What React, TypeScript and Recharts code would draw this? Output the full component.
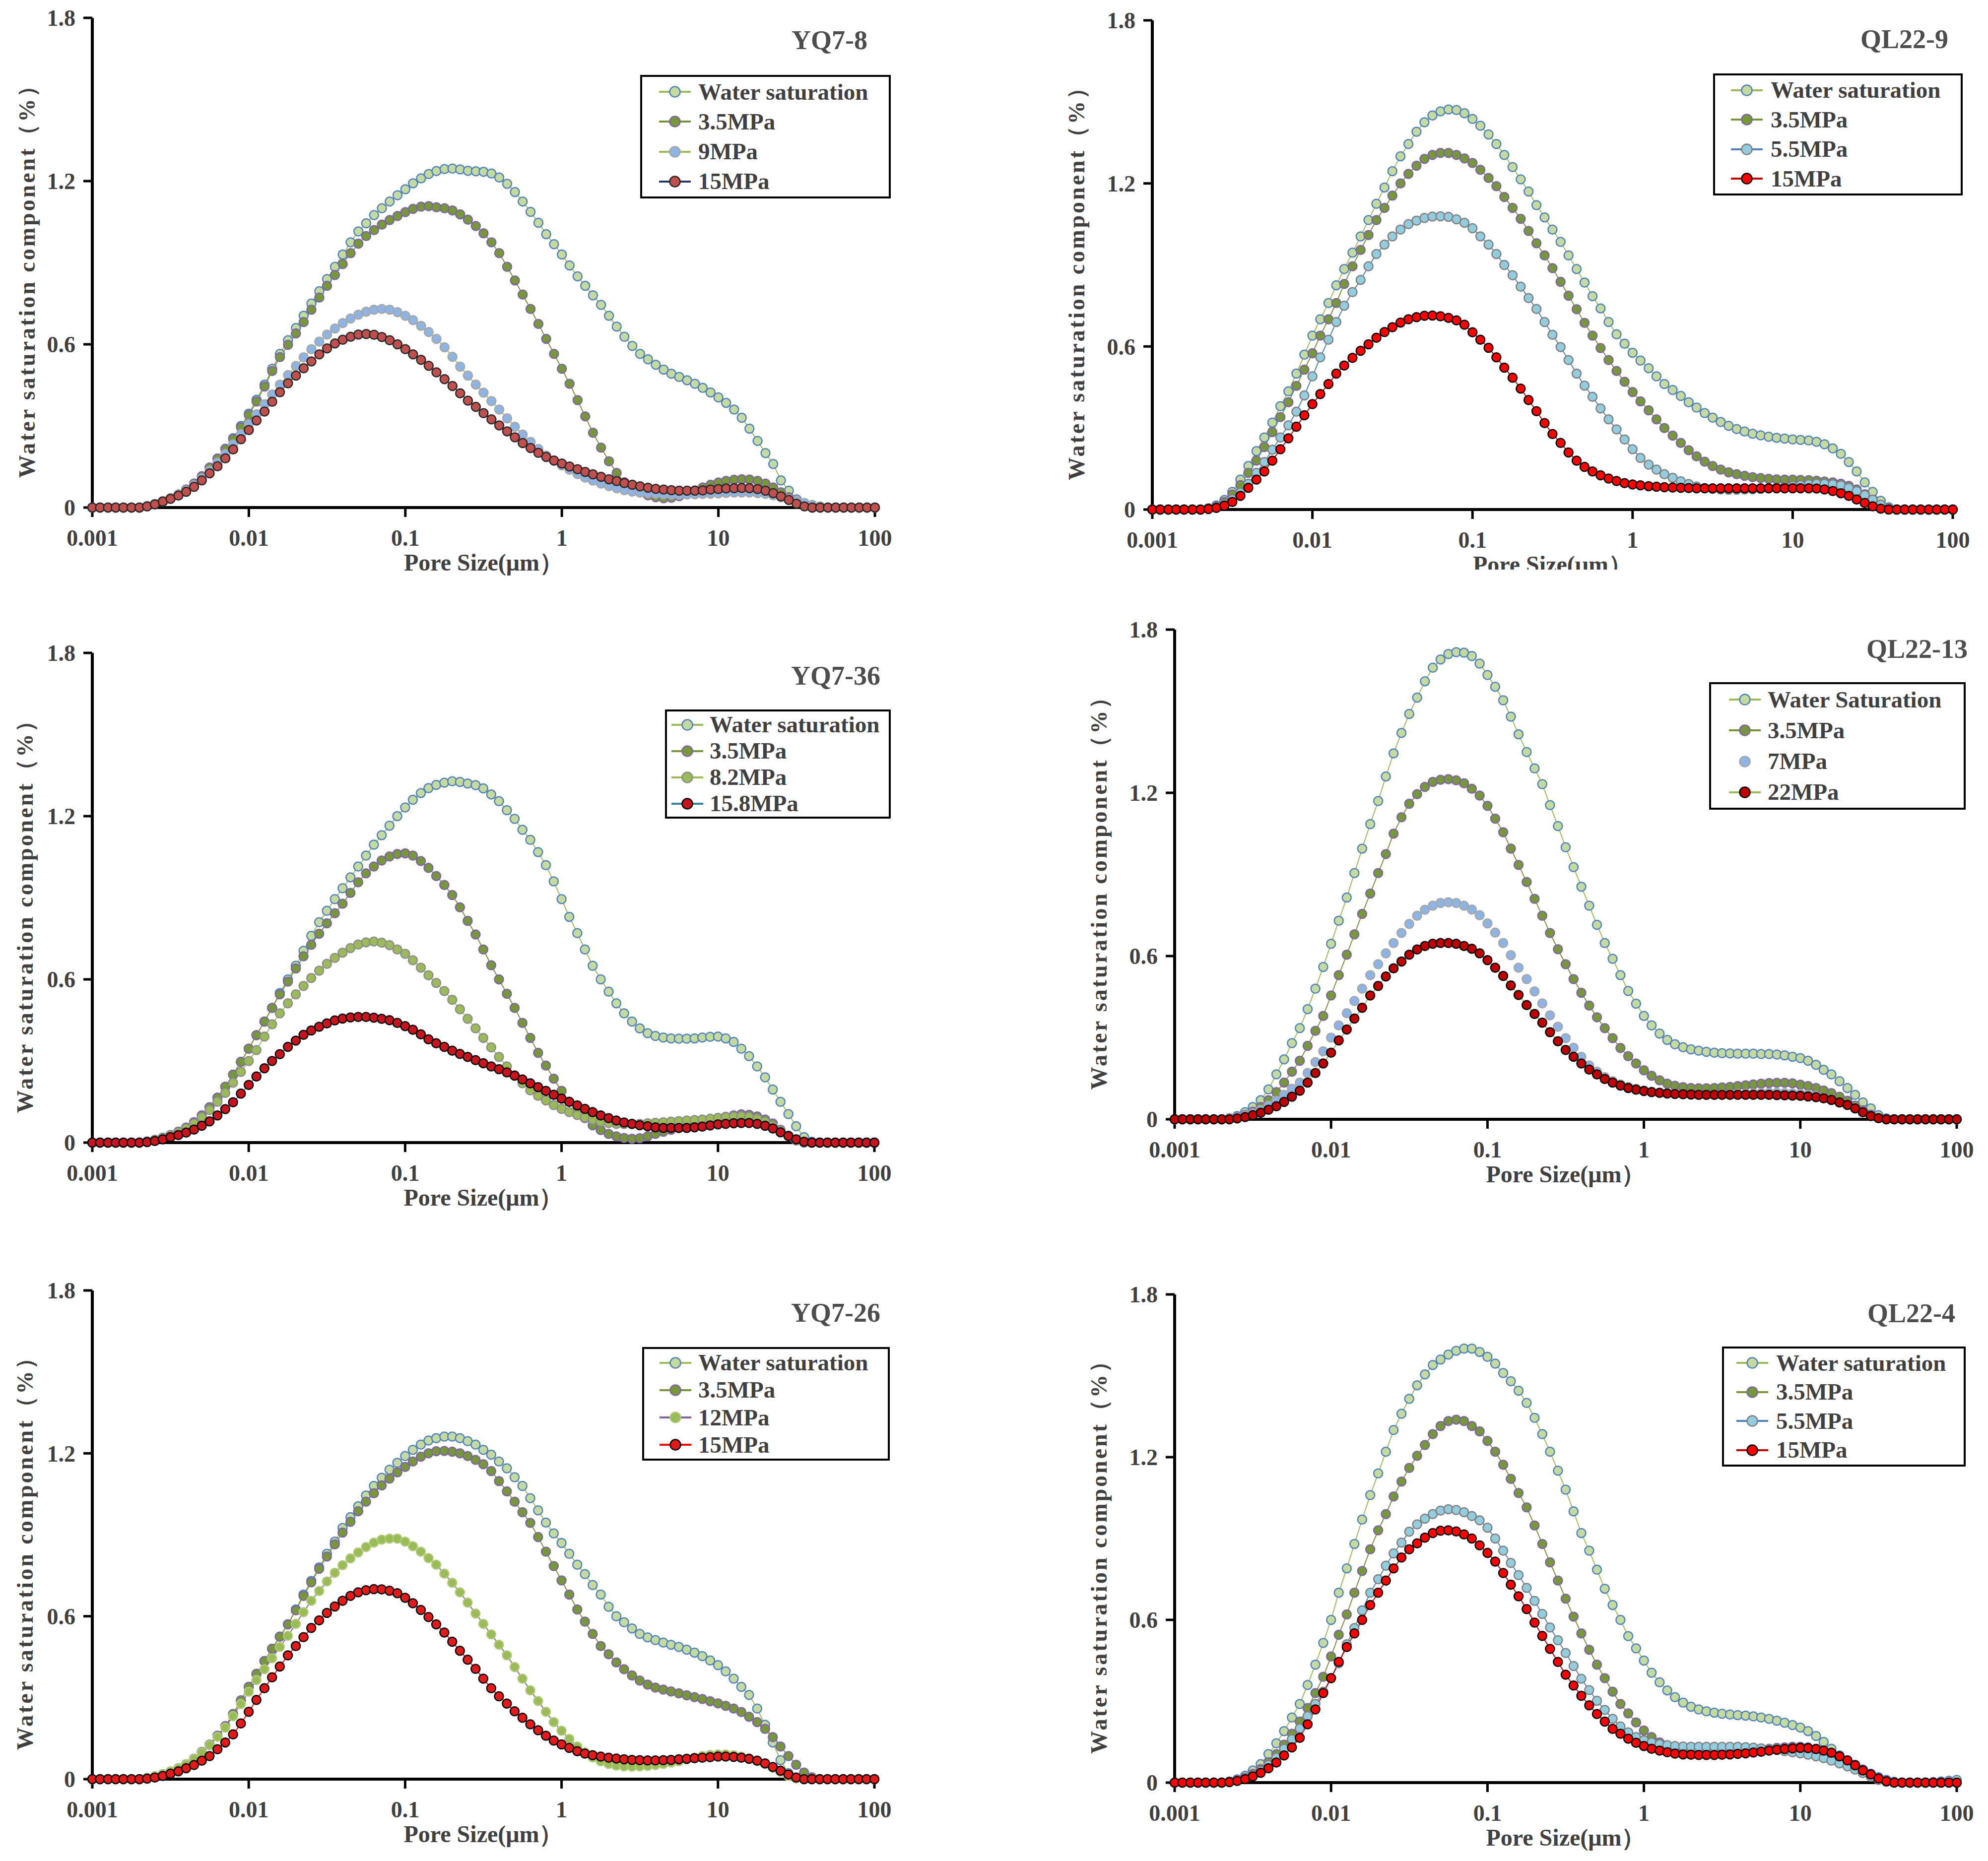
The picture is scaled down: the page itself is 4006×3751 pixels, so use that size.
import React from "react";
import { LineChart, Line, XAxis, YAxis, Legend } from "recharts";

// pore size grid (µm), 20 points per decade
const PORE_SIZE = [
  0.001, 0.00112, 0.00126, 0.00141, 0.00158, 0.00178, 0.002, 0.00224, 0.00251, 0.00282,
  0.00316, 0.00355, 0.00398, 0.00447, 0.00501, 0.00562, 0.00631, 0.00708, 0.00794, 0.00891,
  0.01, 0.0112, 0.0126, 0.0141, 0.0158, 0.0178, 0.02, 0.0224, 0.0251, 0.0282,
  0.0316, 0.0355, 0.0398, 0.0447, 0.0501, 0.0562, 0.0631, 0.0708, 0.0794, 0.0891,
  0.1, 0.112, 0.126, 0.141, 0.158, 0.178, 0.2, 0.224, 0.251, 0.282,
  0.316, 0.355, 0.398, 0.447, 0.501, 0.562, 0.631, 0.708, 0.794, 0.891,
  1, 1.12, 1.26, 1.41, 1.58, 1.78, 2, 2.24, 2.51, 2.82,
  3.16, 3.55, 3.98, 4.47, 5.01, 5.62, 6.31, 7.08, 7.94, 8.91,
  10, 11.2, 12.6, 14.1, 15.8, 17.8, 20, 22.4, 25.1, 28.2,
  31.6, 35.5, 39.8, 44.7, 50.1, 56.2, 63.1, 70.8, 79.4, 89.1,
  100,
];

const X_TICKS = [0.001, 0.01, 0.1, 1, 10, 100];
const X_TICK_LABELS = ["0.001", "0.01", "0.1", "1", "10", "100"];
const Y_TICKS = [0, 0.6, 1.2, 1.8];
const Y_TICK_LABELS = ["0", "0.6", "1.2", "1.8"];

// ---- YQ7-8 ----
const YQ7_8_WATER = [
  0, 0, 0, 0, 0, 0, 0, 0.005, 0.012, 0.022,
  0.034, 0.048, 0.066, 0.088, 0.115, 0.147, 0.18, 0.216, 0.255, 0.3,
  0.345, 0.396, 0.452, 0.51, 0.565, 0.615, 0.66, 0.705, 0.75, 0.795,
  0.84, 0.885, 0.93, 0.975, 1.015, 1.045, 1.075, 1.1, 1.125, 1.148,
  1.17, 1.192, 1.21, 1.226, 1.237, 1.244, 1.246, 1.243, 1.238, 1.236,
  1.234, 1.228, 1.213, 1.19, 1.16, 1.125, 1.087, 1.047, 1.005, 0.968,
  0.93, 0.89, 0.85, 0.815, 0.78, 0.745, 0.705, 0.665, 0.628, 0.594,
  0.565, 0.545, 0.525, 0.507, 0.492, 0.48, 0.468, 0.455, 0.44, 0.423,
  0.405, 0.385, 0.36, 0.33, 0.29, 0.245, 0.2, 0.16, 0.1, 0.062,
  0.03, 0.008, 0, 0, 0, 0, 0, 0, 0, 0,
  0,
];
const YQ7_8_P35 = [
  0, 0, 0, 0, 0, 0, 0, 0.005, 0.012, 0.022,
  0.034, 0.048, 0.066, 0.088, 0.115, 0.147, 0.18, 0.215, 0.252, 0.295,
  0.34, 0.39, 0.445, 0.502, 0.553, 0.598, 0.64, 0.682, 0.727, 0.772,
  0.815, 0.855, 0.895, 0.935, 0.97, 0.998, 1.02, 1.04, 1.057, 1.072,
  1.086, 1.098, 1.106, 1.108, 1.104, 1.1, 1.092, 1.078, 1.058, 1.035,
  1.008, 0.975, 0.935, 0.885, 0.835, 0.783, 0.73, 0.675, 0.62, 0.565,
  0.51, 0.455, 0.395, 0.335, 0.275, 0.22, 0.17, 0.127, 0.093, 0.07,
  0.055, 0.045, 0.038, 0.034, 0.036, 0.042, 0.052, 0.063, 0.074, 0.084,
  0.092, 0.098, 0.102, 0.104, 0.103, 0.098, 0.088, 0.074, 0.056, 0.038,
  0.02, 0.008, 0, 0, 0, 0, 0, 0, 0, 0,
  0,
];
const YQ7_8_P9 = [
  0, 0, 0, 0, 0, 0, 0, 0.005, 0.013, 0.024,
  0.035, 0.048, 0.063, 0.083, 0.108, 0.136, 0.165, 0.197, 0.232, 0.27,
  0.307, 0.343, 0.38, 0.416, 0.452, 0.487, 0.52, 0.552, 0.582, 0.61,
  0.636, 0.658, 0.678, 0.695, 0.709, 0.72, 0.727, 0.73, 0.727, 0.718,
  0.705, 0.689, 0.668, 0.645, 0.62, 0.589, 0.554, 0.518, 0.485, 0.452,
  0.422, 0.391, 0.36, 0.328, 0.297, 0.268, 0.241, 0.215, 0.191, 0.172,
  0.155, 0.139, 0.123, 0.11, 0.099, 0.088, 0.079, 0.071, 0.064, 0.059,
  0.055, 0.052, 0.05, 0.048, 0.047, 0.047, 0.048, 0.049, 0.05, 0.051,
  0.052, 0.054, 0.055, 0.055, 0.055, 0.053, 0.05, 0.045, 0.038, 0.031,
  0.024, 0.017, 0.01, 0.004, 0, 0, 0, 0, 0, 0,
  0,
];
const YQ7_8_P15 = [
  0, 0, 0, 0, 0, 0, 0, 0.004, 0.012, 0.022,
  0.032, 0.044, 0.058, 0.076, 0.1, 0.126, 0.152, 0.181, 0.214, 0.251,
  0.285, 0.32, 0.353, 0.389, 0.424, 0.457, 0.485, 0.512, 0.537, 0.563,
  0.585, 0.603, 0.617, 0.628, 0.636, 0.638, 0.635, 0.627, 0.615, 0.6,
  0.582, 0.563, 0.543, 0.521, 0.497, 0.472, 0.447, 0.42, 0.393, 0.37,
  0.347, 0.324, 0.302, 0.28, 0.258, 0.237, 0.219, 0.201, 0.186, 0.173,
  0.162, 0.151, 0.141, 0.131, 0.122, 0.113, 0.104, 0.097, 0.09, 0.084,
  0.078, 0.073, 0.069, 0.066, 0.064, 0.062, 0.062, 0.062, 0.063, 0.066,
  0.068, 0.07, 0.071, 0.072, 0.071, 0.068, 0.062, 0.053, 0.041, 0.028,
  0.014, 0.004, 0, 0, 0, 0, 0, 0, 0, 0,
  0,
];

// ---- QL22-9 ----
const QL22_9_WATER = [
  0, 0, 0, 0, 0, 0, 0, 0.005, 0.015, 0.035,
  0.065, 0.11, 0.16, 0.215, 0.265, 0.32, 0.38, 0.435, 0.5, 0.57,
  0.64, 0.7, 0.76, 0.825, 0.885, 0.945, 1.005, 1.065, 1.125, 1.185,
  1.245, 1.3, 1.345, 1.39, 1.425, 1.45, 1.465, 1.472, 1.47, 1.458,
  1.437, 1.412, 1.38, 1.345, 1.305, 1.26, 1.215, 1.17, 1.12, 1.075,
  1.03, 0.985, 0.935, 0.885, 0.835, 0.785, 0.74, 0.69, 0.645, 0.61,
  0.577, 0.548, 0.52, 0.49, 0.462, 0.44, 0.418, 0.395, 0.375, 0.355,
  0.338, 0.322, 0.308, 0.296, 0.287, 0.279, 0.273, 0.268, 0.264, 0.261,
  0.258, 0.256, 0.254, 0.249, 0.24, 0.225, 0.205, 0.175, 0.14, 0.1,
  0.065, 0.032, 0.008, 0, 0, 0, 0, 0, 0, 0,
  0,
];
const QL22_9_P35 = [
  0, 0, 0, 0, 0, 0, 0, 0.004, 0.012, 0.028,
  0.055, 0.09, 0.135, 0.18, 0.23, 0.285, 0.34, 0.395, 0.455, 0.515,
  0.575, 0.64, 0.7, 0.76, 0.83, 0.895, 0.955, 1.01, 1.065, 1.11,
  1.155, 1.2, 1.235, 1.265, 1.29, 1.305, 1.312, 1.312, 1.305, 1.292,
  1.275, 1.25, 1.22, 1.19, 1.15, 1.11, 1.07, 1.025, 0.98, 0.935,
  0.888, 0.838, 0.787, 0.737, 0.687, 0.64, 0.594, 0.55, 0.51, 0.47,
  0.432, 0.398, 0.365, 0.332, 0.3, 0.272, 0.245, 0.218, 0.196, 0.176,
  0.16, 0.147, 0.137, 0.13, 0.124, 0.119, 0.116, 0.113, 0.111, 0.11,
  0.11, 0.109, 0.108, 0.106, 0.103, 0.1, 0.095, 0.087, 0.074, 0.056,
  0.036, 0.016, 0.004, 0, 0, 0, 0, 0, 0, 0,
  0,
];
const QL22_9_P55 = [
  0, 0, 0, 0, 0, 0, 0, 0.003, 0.009, 0.02,
  0.038, 0.062, 0.095, 0.135, 0.175, 0.22, 0.265, 0.31, 0.36, 0.42,
  0.49, 0.56, 0.625, 0.69, 0.75, 0.8, 0.845, 0.895, 0.94, 0.975,
  1.005, 1.03, 1.05, 1.063, 1.073, 1.078, 1.079, 1.077, 1.068, 1.055,
  1.035, 1.005, 0.975, 0.94, 0.9, 0.862, 0.82, 0.778, 0.738, 0.69,
  0.643, 0.598, 0.55, 0.5, 0.456, 0.415, 0.372, 0.332, 0.295, 0.258,
  0.222, 0.19, 0.165, 0.147, 0.13, 0.117, 0.104, 0.094, 0.085, 0.079,
  0.076, 0.074, 0.073, 0.073, 0.074, 0.075, 0.076, 0.078, 0.08, 0.083,
  0.087, 0.09, 0.093, 0.095, 0.095, 0.093, 0.089, 0.08, 0.068, 0.053,
  0.036, 0.018, 0.005, 0, 0, 0, 0, 0, 0, 0,
  0,
];
const QL22_9_P15 = [
  0, 0, 0, 0, 0, 0, 0, 0.002, 0.006, 0.014,
  0.028, 0.05, 0.08, 0.11, 0.14, 0.18, 0.222, 0.262, 0.305, 0.347,
  0.388, 0.425, 0.462, 0.5, 0.53, 0.558, 0.584, 0.608, 0.632, 0.653,
  0.671, 0.688, 0.7, 0.708, 0.713, 0.714, 0.711, 0.705, 0.696, 0.68,
  0.652, 0.625, 0.595, 0.56, 0.522, 0.485, 0.445, 0.403, 0.362, 0.318,
  0.278, 0.245, 0.21, 0.18, 0.157, 0.14, 0.126, 0.114, 0.105, 0.097,
  0.092, 0.089, 0.086, 0.084, 0.082, 0.081, 0.08, 0.079, 0.078, 0.078,
  0.078, 0.078, 0.078, 0.078, 0.078, 0.078, 0.078, 0.078, 0.078, 0.078,
  0.078, 0.078, 0.078, 0.077, 0.074, 0.068, 0.06, 0.05, 0.037, 0.024,
  0.012, 0.003, 0, 0, 0, 0, 0, 0, 0, 0,
  0,
];

// ---- YQ7-36 ----
const YQ7_36_WATER = [
  0, 0, 0, 0, 0, 0, 0, 0.004, 0.01, 0.018,
  0.028, 0.04, 0.055, 0.075, 0.1, 0.13, 0.165, 0.205, 0.25, 0.297,
  0.345, 0.395, 0.445, 0.495, 0.55, 0.6, 0.65, 0.705, 0.76, 0.81,
  0.852, 0.895, 0.935, 0.975, 1.015, 1.055, 1.095, 1.13, 1.165, 1.2,
  1.232, 1.26, 1.285, 1.303, 1.315, 1.323, 1.328, 1.326, 1.32, 1.314,
  1.302, 1.28, 1.255, 1.222, 1.19, 1.15, 1.113, 1.068, 1.02, 0.96,
  0.895, 0.83, 0.77, 0.71, 0.65, 0.6, 0.555, 0.512, 0.475, 0.445,
  0.42, 0.402, 0.392, 0.386, 0.383, 0.382, 0.382, 0.383, 0.386, 0.389,
  0.39, 0.383, 0.37, 0.345, 0.318, 0.28, 0.24, 0.195, 0.15, 0.105,
  0.06, 0.02, 0.003, 0, 0, 0, 0, 0, 0, 0,
  0,
];
const YQ7_36_P35 = [
  0, 0, 0, 0, 0, 0, 0, 0.004, 0.01, 0.018,
  0.028, 0.04, 0.055, 0.075, 0.1, 0.13, 0.165, 0.205, 0.25, 0.297,
  0.345, 0.395, 0.445, 0.495, 0.545, 0.592, 0.64, 0.685, 0.727, 0.768,
  0.806, 0.843, 0.878, 0.918, 0.957, 0.99, 1.015, 1.037, 1.052, 1.061,
  1.063, 1.055, 1.035, 1.01, 0.98, 0.947, 0.91, 0.865, 0.815, 0.765,
  0.71, 0.652, 0.6, 0.547, 0.495, 0.44, 0.385, 0.33, 0.283, 0.235,
  0.19, 0.15, 0.118, 0.09, 0.064, 0.046, 0.032, 0.023, 0.017, 0.014,
  0.016, 0.023, 0.032, 0.04, 0.047, 0.054, 0.061, 0.068, 0.075, 0.081,
  0.088, 0.095, 0.1, 0.104, 0.102, 0.096, 0.085, 0.07, 0.047, 0.025,
  0.008, 0, 0, 0, 0, 0, 0, 0, 0, 0,
  0,
];
const YQ7_36_P82 = [
  0, 0, 0, 0, 0, 0, 0, 0.004, 0.01, 0.018,
  0.027, 0.038, 0.052, 0.07, 0.093, 0.12, 0.15, 0.183, 0.22, 0.26,
  0.3, 0.34, 0.39, 0.435, 0.475, 0.512, 0.545, 0.576, 0.605, 0.632,
  0.657, 0.679, 0.698, 0.715, 0.728, 0.736, 0.739, 0.735, 0.726, 0.71,
  0.694, 0.67, 0.643, 0.615, 0.587, 0.557, 0.525, 0.49, 0.455, 0.42,
  0.385, 0.35, 0.315, 0.28, 0.247, 0.218, 0.192, 0.172, 0.155, 0.138,
  0.124, 0.112, 0.101, 0.092, 0.084, 0.077, 0.072, 0.069, 0.068, 0.068,
  0.069, 0.071, 0.073, 0.075, 0.077, 0.079, 0.081, 0.083, 0.085, 0.088,
  0.091, 0.094, 0.096, 0.097, 0.095, 0.088, 0.077, 0.062, 0.044, 0.025,
  0.008, 0, 0, 0, 0, 0, 0, 0, 0, 0,
  0,
];
const YQ7_36_P158 = [
  0, 0, 0, 0, 0, 0, 0, 0.002, 0.006, 0.012,
  0.02, 0.028, 0.037, 0.048, 0.062, 0.078, 0.1, 0.123, 0.148, 0.18,
  0.212, 0.243, 0.273, 0.3, 0.325, 0.352, 0.375, 0.396, 0.412, 0.426,
  0.438, 0.449, 0.456, 0.46, 0.462, 0.462, 0.459, 0.455, 0.45, 0.44,
  0.428, 0.415, 0.398, 0.38, 0.365, 0.352, 0.338, 0.326, 0.315, 0.303,
  0.292, 0.28, 0.27, 0.258, 0.246, 0.232, 0.218, 0.204, 0.19, 0.176,
  0.162, 0.15, 0.137, 0.124, 0.112, 0.1, 0.09, 0.081, 0.074, 0.069,
  0.064, 0.06, 0.056, 0.054, 0.054, 0.054, 0.054, 0.056, 0.059, 0.063,
  0.067, 0.069, 0.071, 0.072, 0.072, 0.069, 0.062, 0.052, 0.038, 0.024,
  0.012, 0.003, 0, 0, 0, 0, 0, 0, 0, 0,
  0,
];

// ---- QL22-13 ----
const QL22_13_WATER = [
  0, 0, 0, 0, 0, 0, 0, 0.004, 0.012, 0.026,
  0.045, 0.07, 0.11, 0.165, 0.22, 0.28, 0.335, 0.405, 0.48, 0.56,
  0.645, 0.73, 0.815, 0.905, 0.995, 1.085, 1.17, 1.26, 1.345, 1.42,
  1.49, 1.55, 1.61, 1.66, 1.69, 1.71, 1.717, 1.715, 1.703, 1.675,
  1.633, 1.59, 1.54, 1.48, 1.415, 1.35, 1.29, 1.232, 1.155, 1.078,
  1.0, 0.927, 0.855, 0.785, 0.715, 0.648, 0.59, 0.53, 0.472, 0.425,
  0.38, 0.345, 0.315, 0.292, 0.276, 0.265, 0.257, 0.252, 0.248, 0.245,
  0.243, 0.242, 0.241, 0.241, 0.241, 0.24, 0.24, 0.238, 0.235, 0.23,
  0.225, 0.215, 0.2, 0.182, 0.165, 0.14, 0.115, 0.09, 0.062, 0.04,
  0.015, 0.003, 0, 0, 0, 0, 0, 0, 0, 0,
  0,
];
const QL22_13_P35 = [
  0, 0, 0, 0, 0, 0, 0, 0.003, 0.008, 0.016,
  0.028, 0.045, 0.07, 0.1, 0.135, 0.175, 0.215, 0.27, 0.325, 0.38,
  0.455, 0.53, 0.605, 0.68, 0.755, 0.83, 0.905, 0.975, 1.05, 1.11,
  1.16, 1.195, 1.222, 1.24, 1.248, 1.25, 1.246, 1.235, 1.215, 1.19,
  1.152, 1.105, 1.055, 0.995, 0.935, 0.872, 0.81, 0.748, 0.685, 0.625,
  0.57, 0.515, 0.465, 0.418, 0.375, 0.335, 0.298, 0.262, 0.232, 0.205,
  0.18, 0.16, 0.143, 0.131, 0.123, 0.118, 0.115, 0.114, 0.114, 0.115,
  0.117, 0.119, 0.122, 0.125, 0.128, 0.131, 0.133, 0.134, 0.134, 0.132,
  0.127, 0.122, 0.115, 0.106, 0.096, 0.083, 0.068, 0.05, 0.033, 0.017,
  0.005, 0, 0, 0, 0, 0, 0, 0, 0, 0,
  0,
];
const QL22_13_P7 = [
  0, 0, 0, 0, 0, 0, 0, 0.003, 0.007, 0.013,
  0.022, 0.034, 0.05, 0.068, 0.09, 0.112, 0.135, 0.17, 0.21, 0.25,
  0.3, 0.345, 0.39, 0.435, 0.48, 0.53, 0.57, 0.61, 0.648, 0.685,
  0.718, 0.748, 0.77, 0.785, 0.795, 0.798, 0.795, 0.785, 0.771, 0.75,
  0.72, 0.686, 0.648, 0.603, 0.557, 0.515, 0.47, 0.426, 0.382, 0.34,
  0.298, 0.263, 0.23, 0.198, 0.175, 0.155, 0.14, 0.128, 0.119, 0.112,
  0.106, 0.101, 0.098, 0.096, 0.094, 0.092, 0.091, 0.09, 0.09, 0.09,
  0.091, 0.092, 0.093, 0.094, 0.095, 0.096, 0.097, 0.097, 0.096, 0.095,
  0.093, 0.09, 0.086, 0.079, 0.071, 0.062, 0.053, 0.042, 0.028, 0.012,
  0.004, 0, 0, 0, 0, 0, 0, 0, 0, 0,
  0,
];
const QL22_13_P22 = [
  0, 0, 0, 0, 0, 0, 0, 0, 0.003, 0.008,
  0.015, 0.024, 0.035, 0.048, 0.064, 0.083, 0.105, 0.135, 0.17, 0.205,
  0.245, 0.29, 0.33, 0.37, 0.41, 0.455, 0.49, 0.525, 0.555, 0.58,
  0.605, 0.624, 0.637, 0.645, 0.648, 0.648, 0.645, 0.637, 0.627, 0.61,
  0.585, 0.557, 0.527, 0.492, 0.457, 0.42, 0.387, 0.355, 0.32, 0.287,
  0.255, 0.23, 0.205, 0.183, 0.165, 0.148, 0.135, 0.124, 0.115, 0.109,
  0.104, 0.1, 0.097, 0.095, 0.093, 0.092, 0.091, 0.09, 0.09, 0.09,
  0.09, 0.09, 0.09, 0.09, 0.09, 0.09, 0.09, 0.089, 0.088, 0.087,
  0.086, 0.084, 0.081, 0.077, 0.071, 0.062, 0.053, 0.04, 0.026, 0.012,
  0.004, 0, 0, 0, 0, 0, 0, 0, 0, 0,
  0,
];

// ---- YQ7-26 ----
const YQ7_26_WATER = [
  0, 0, 0, 0, 0, 0, 0, 0.004, 0.01, 0.018,
  0.028, 0.04, 0.055, 0.075, 0.1, 0.127, 0.16, 0.195, 0.24, 0.29,
  0.34, 0.388, 0.435, 0.48, 0.525, 0.57, 0.625, 0.68, 0.73, 0.78,
  0.83, 0.875, 0.925, 0.965, 1.005, 1.045, 1.08, 1.11, 1.14, 1.165,
  1.19, 1.213, 1.232, 1.247, 1.256, 1.262, 1.262, 1.256, 1.245, 1.232,
  1.213, 1.195, 1.17, 1.145, 1.112, 1.08, 1.035, 0.99, 0.945, 0.905,
  0.87, 0.83, 0.79, 0.755, 0.715, 0.68, 0.635, 0.6, 0.578, 0.555,
  0.535, 0.522, 0.512, 0.503, 0.495, 0.487, 0.477, 0.466, 0.453, 0.437,
  0.42, 0.397, 0.37, 0.34, 0.31, 0.26, 0.2, 0.135, 0.07, 0.022,
  0.003, 0, 0, 0, 0, 0, 0, 0, 0, 0,
  0,
];
const YQ7_26_P35 = [
  0, 0, 0, 0, 0, 0, 0, 0.004, 0.01, 0.018,
  0.028, 0.04, 0.055, 0.075, 0.1, 0.127, 0.16, 0.195, 0.24, 0.29,
  0.34, 0.388, 0.435, 0.48, 0.525, 0.57, 0.622, 0.675, 0.725, 0.775,
  0.82, 0.865, 0.908, 0.948, 0.987, 1.022, 1.053, 1.082, 1.107, 1.13,
  1.15, 1.17, 1.188, 1.2, 1.208, 1.209, 1.206, 1.2, 1.19, 1.176,
  1.16, 1.135, 1.098, 1.06, 1.022, 0.983, 0.944, 0.892, 0.838, 0.785,
  0.732, 0.68, 0.625, 0.58, 0.535, 0.49, 0.46, 0.43, 0.405, 0.382,
  0.363, 0.348, 0.337, 0.33, 0.323, 0.316, 0.309, 0.302, 0.295, 0.287,
  0.279, 0.27, 0.26, 0.247, 0.23, 0.21, 0.185, 0.155, 0.12, 0.085,
  0.053, 0.024, 0.007, 0, 0, 0, 0, 0, 0, 0,
  0,
];
const YQ7_26_P12 = [
  0, 0, 0, 0, 0, 0, 0, 0.004, 0.01, 0.018,
  0.028, 0.04, 0.055, 0.074, 0.098, 0.125, 0.156, 0.19, 0.232, 0.277,
  0.322, 0.365, 0.405, 0.445, 0.487, 0.528, 0.572, 0.615, 0.657, 0.693,
  0.728, 0.76, 0.788, 0.813, 0.835, 0.855, 0.871, 0.882, 0.886, 0.886,
  0.875, 0.858, 0.838, 0.814, 0.79, 0.757, 0.723, 0.688, 0.65, 0.61,
  0.572, 0.533, 0.495, 0.456, 0.413, 0.37, 0.327, 0.288, 0.248, 0.21,
  0.178, 0.148, 0.12, 0.098, 0.08, 0.066, 0.056, 0.05, 0.047, 0.046,
  0.047, 0.049, 0.052, 0.056, 0.061, 0.066, 0.073, 0.079, 0.085, 0.089,
  0.091, 0.091, 0.088, 0.083, 0.076, 0.067, 0.056, 0.042, 0.027, 0.012,
  0.003, 0, 0, 0, 0, 0, 0, 0, 0, 0,
  0,
];
const YQ7_26_P15 = [
  0, 0, 0, 0, 0, 0, 0, 0.002, 0.006, 0.012,
  0.02, 0.029, 0.04, 0.052, 0.068, 0.085, 0.11, 0.135, 0.165, 0.205,
  0.248, 0.292, 0.335, 0.375, 0.415, 0.456, 0.49, 0.523, 0.557, 0.585,
  0.612, 0.636, 0.657, 0.675, 0.688, 0.696, 0.7, 0.699, 0.694, 0.685,
  0.668, 0.648, 0.623, 0.597, 0.57, 0.54, 0.506, 0.473, 0.44, 0.406,
  0.37, 0.335, 0.305, 0.278, 0.25, 0.226, 0.202, 0.18, 0.16, 0.142,
  0.128, 0.115, 0.103, 0.094, 0.088, 0.083, 0.079, 0.076, 0.073, 0.071,
  0.07, 0.069, 0.069, 0.07, 0.071, 0.073, 0.075, 0.077, 0.079, 0.081,
  0.083, 0.083, 0.082, 0.079, 0.075, 0.068, 0.058, 0.045, 0.031, 0.017,
  0.006, 0, 0, 0, 0, 0, 0, 0, 0, 0,
  0,
];

// ---- QL22-4 ----
const QL22_4_WATER = [
  0, 0, 0, 0, 0, 0, 0, 0.004, 0.012, 0.025,
  0.045, 0.068, 0.105, 0.145, 0.19, 0.24, 0.29, 0.36, 0.435, 0.515,
  0.6, 0.7, 0.79, 0.88, 0.97, 1.06, 1.14, 1.22, 1.3, 1.36,
  1.415, 1.465, 1.505, 1.54, 1.56, 1.578, 1.592, 1.6, 1.6, 1.588,
  1.57, 1.545, 1.51, 1.48, 1.445, 1.4, 1.345, 1.285, 1.22, 1.15,
  1.08, 1.0, 0.92, 0.855, 0.785, 0.715, 0.655, 0.6, 0.54, 0.495,
  0.45, 0.405, 0.37, 0.34, 0.315, 0.295, 0.28, 0.27, 0.263, 0.258,
  0.254, 0.251, 0.249, 0.247, 0.244, 0.24, 0.235, 0.228, 0.221, 0.212,
  0.203, 0.19, 0.172, 0.15, 0.125, 0.1, 0.08, 0.062, 0.048, 0.033,
  0.02, 0.01, 0.003, 0, 0, 0, 0, 0.002, 0.004, 0.007,
  0.01,
];
const QL22_4_P35 = [
  0, 0, 0, 0, 0, 0, 0, 0.003, 0.009, 0.018,
  0.032, 0.05, 0.075, 0.105, 0.14, 0.18, 0.225, 0.275, 0.33, 0.39,
  0.465, 0.545, 0.62, 0.7, 0.78, 0.86, 0.93, 0.99, 1.055, 1.11,
  1.16, 1.205, 1.245, 1.285, 1.315, 1.333, 1.338, 1.333, 1.315, 1.295,
  1.26, 1.22, 1.172, 1.12, 1.068, 1.015, 0.948, 0.88, 0.812, 0.745,
  0.678, 0.612, 0.55, 0.49, 0.435, 0.385, 0.335, 0.29, 0.255, 0.222,
  0.192, 0.168, 0.148, 0.135, 0.126, 0.12, 0.117, 0.115, 0.113, 0.112,
  0.111, 0.112, 0.113, 0.116, 0.119, 0.122, 0.125, 0.128, 0.13, 0.132,
  0.132, 0.13, 0.125, 0.118, 0.108, 0.095, 0.082, 0.066, 0.048, 0.032,
  0.017, 0.007, 0, 0, 0, 0, 0, 0, 0, 0,
  0,
];
const QL22_4_P55 = [
  0, 0, 0, 0, 0, 0, 0, 0.003, 0.008, 0.016,
  0.028, 0.044, 0.065, 0.092, 0.125, 0.16, 0.2, 0.245, 0.29, 0.335,
  0.385, 0.44, 0.51, 0.57, 0.635, 0.7, 0.75, 0.8, 0.845, 0.885,
  0.925, 0.952, 0.973, 0.99, 1.003, 1.008, 1.005, 0.997, 0.983, 0.967,
  0.94, 0.9, 0.855, 0.81, 0.765, 0.718, 0.67, 0.622, 0.572, 0.525,
  0.478, 0.43, 0.383, 0.341, 0.302, 0.268, 0.235, 0.207, 0.185, 0.168,
  0.156, 0.148, 0.142, 0.138, 0.135, 0.133, 0.132, 0.132, 0.132, 0.132,
  0.132, 0.132, 0.132, 0.131, 0.129, 0.126, 0.123, 0.12, 0.116, 0.112,
  0.108, 0.103, 0.097, 0.09, 0.081, 0.071, 0.06, 0.048, 0.035, 0.022,
  0.01, 0.003, 0, 0, 0, 0, 0, 0, 0, 0,
  0,
];
const QL22_4_P15 = [
  0, 0, 0, 0, 0, 0, 0, 0.002, 0.006, 0.013,
  0.023, 0.036, 0.053, 0.074, 0.1, 0.13, 0.165, 0.215, 0.27, 0.33,
  0.385, 0.445, 0.5, 0.55, 0.6, 0.655, 0.7, 0.745, 0.79, 0.83,
  0.86, 0.882, 0.903, 0.92, 0.929, 0.93, 0.926, 0.915, 0.9, 0.875,
  0.847, 0.815, 0.773, 0.73, 0.687, 0.64, 0.59, 0.541, 0.493, 0.445,
  0.398, 0.358, 0.32, 0.285, 0.253, 0.225, 0.198, 0.18, 0.162, 0.147,
  0.135, 0.125, 0.118, 0.112, 0.107, 0.104, 0.103, 0.102, 0.102, 0.102,
  0.103, 0.104, 0.106, 0.108, 0.111, 0.114, 0.118, 0.121, 0.124, 0.126,
  0.128, 0.127, 0.124, 0.118, 0.11, 0.097, 0.082, 0.064, 0.045, 0.03,
  0.015, 0.005, 0, 0, 0, 0, 0, 0, 0, 0,
  0,
];

const WATER = { fill: "#C4DA9E", stroke: "#4F81BD", line: "#9BBB59" };
const MPA35 = { fill: "#76983A", stroke: "#8064A2", line: "#77933C" };

const FONT = "'Liberation Serif', 'Times New Roman', serif";
const TEXT = "#404040";
const AXIS_W = 186;
const MARGIN_TOP = 36;
const MARGIN_RIGHT = 50;
const XAXIS_H = 150;

type Series = { name: string; values: number[]; fill: string; stroke: string; line: string | null };
type Panel = {
  title: string;
  plot: { left: number; top: number; right: number; bottom: number };
  legend: { left: number; top: number; width: number; height: number; symbol: number; text: number };
  titleRight: number;
  titleCy: number;
  yTitleGap: number;
  clipBottom?: number;
  series: Series[];
};

const PANELS: Panel[] = [
  {
    title: "YQ7-8",
    plot: { left: 186, top: 36, right: 1763, bottom: 1023 },
    legend: { left: 1290, top: 151, width: 505, height: 249, symbol: 38, text: 117 },
    titleRight: 1748, titleCy: 81, yTitleGap: 116,
    series: [
      { name: "Water saturation", values: YQ7_8_WATER, ...WATER },
      { name: "3.5MPa", values: YQ7_8_P35, ...MPA35 },
      { name: "9MPa", values: YQ7_8_P9, fill: "#8DB4E2", stroke: "#A6A6A6", line: "#9BBB59" },
      { name: "15MPa", values: YQ7_8_P15, fill: "#C0504D", stroke: "#262626", line: "#1F3864" },
    ],
  },
  {
    title: "QL22-9",
    plot: { left: 2322, top: 41, right: 3935, bottom: 1027 },
    legend: { left: 3452, top: 148, width: 503, height: 246, symbol: 36, text: 116 },
    titleRight: 3926, titleCy: 79, yTitleGap: 137, clipBottom: 1148,
    series: [
      { name: "Water saturation", values: QL22_9_WATER, ...WATER },
      { name: "3.5MPa", values: QL22_9_P35, ...MPA35 },
      { name: "5.5MPa", values: QL22_9_P55, fill: "#93CDDD", stroke: "#7F7F7F", line: "#4F81BD" },
      { name: "15MPa", values: QL22_9_P15, fill: "#FF0000", stroke: "#000000", line: "#C00000" },
    ],
  },
  {
    title: "YQ7-36",
    plot: { left: 186, top: 1316, right: 1762, bottom: 2303 },
    legend: { left: 1340, top: 1430, width: 455, height: 220, symbol: 13, text: 90 },
    titleRight: 1774, titleCy: 1362, yTitleGap: 120,
    series: [
      { name: "Water saturation", values: YQ7_36_WATER, ...WATER },
      { name: "3.5MPa", values: YQ7_36_P35, ...MPA35 },
      { name: "8.2MPa", values: YQ7_36_P82, fill: "#9BBB59", stroke: "#8C8C8C", line: "#9BBB59" },
      { name: "15.8MPa", values: YQ7_36_P158, fill: "#C8141C", stroke: "#000000", line: "#31849B" },
    ],
  },
  {
    title: "QL22-13",
    plot: { left: 2367, top: 1269, right: 3943, bottom: 2256 },
    legend: { left: 3444, top: 1375, width: 517, height: 257, symbol: 40, text: 118 },
    titleRight: 3965, titleCy: 1308, yTitleGap: 137,
    series: [
      { name: "Water Saturation", values: QL22_13_WATER, ...WATER },
      { name: "3.5MPa", values: QL22_13_P35, ...MPA35 },
      { name: "7MPa", values: QL22_13_P7, fill: "#8DB4E2", stroke: "#A6A6A6", line: null },
      { name: "22MPa", values: QL22_13_P22, fill: "#C00000", stroke: "#000000", line: "#9BBB59" },
    ],
  },
  {
    title: "YQ7-26",
    plot: { left: 186, top: 2601, right: 1762, bottom: 3586 },
    legend: { left: 1294, top: 2715, width: 499, height: 229, symbol: 35, text: 113 },
    titleRight: 1774, titleCy: 2646, yTitleGap: 120,
    series: [
      { name: "Water saturation", values: YQ7_26_WATER, ...WATER },
      { name: "3.5MPa", values: YQ7_26_P35, ...MPA35 },
      { name: "12MPa", values: YQ7_26_P12, fill: "#9BBB59", stroke: "#B0CB78", line: "#8064A2" },
      { name: "15MPa", values: YQ7_26_P15, fill: "#E31A1A", stroke: "#000000", line: "#FF0000" },
    ],
  },
  {
    title: "QL22-4",
    plot: { left: 2367, top: 2609, right: 3943, bottom: 3593 },
    legend: { left: 3470, top: 2714, width: 491, height: 242, symbol: 29, text: 109 },
    titleRight: 3940, titleCy: 2647, yTitleGap: 137,
    series: [
      { name: "Water saturation", values: QL22_4_WATER, ...WATER },
      { name: "3.5MPa", values: QL22_4_P35, ...MPA35 },
      { name: "5.5MPa", values: QL22_4_P55, fill: "#93CDDD", stroke: "#7F7F7F", line: "#4F81BD" },
      { name: "15MPa", values: QL22_4_P15, fill: "#FF0000", stroke: "#000000", line: "#C00000" },
    ],
  },
];

const SYMBOL_W = 64;

function LegendBox({ panel, payload }: { panel: Panel; payload?: any[] }) {
  const { legend } = panel;
  const rowH = (legend.height - 8) / 4;
  const entries = panel.series.map((s, i) => {
    const p = payload?.find((e) => e.dataKey === `s${i}`);
    return { ...s, label: p?.value ?? s.name };
  });
  return (
    <div style={{ position: "relative", width: legend.width, height: legend.height, fontFamily: FONT }}>
      <div
        style={{
          position: "absolute",
          right: legend.left + legend.width - panel.titleRight,
          top: panel.titleCy - legend.top - 32,
          lineHeight: "64px",
          fontSize: 54,
          fontWeight: "bold",
          color: "#4D4D4D",
          whiteSpace: "nowrap",
        }}
      >
        {panel.title}
      </div>
      <div
        style={{
          boxSizing: "border-box",
          width: "100%",
          height: "100%",
          border: "4px solid #000",
          background: "#fff",
        }}
      >
        {entries.map((e) => (
          <div key={e.name} style={{ display: "flex", alignItems: "center", height: rowH }}>
            <svg width={SYMBOL_W} height={28} style={{ marginLeft: legend.symbol - 4, flex: "none" }}>
              {e.line && <line x1={0} y1={14} x2={SYMBOL_W} y2={14} stroke={e.line} strokeWidth={4} />}
              <circle cx={SYMBOL_W / 2} cy={14} r={10.5} fill={e.fill} stroke={e.stroke} strokeWidth={2.5} />
            </svg>
            <span
              style={{
                marginLeft: legend.text - legend.symbol - SYMBOL_W,
                fontSize: 47,
                fontWeight: "bold",
                color: TEXT,
                lineHeight: 1,
                whiteSpace: "nowrap",
              }}
            >
              {e.label}
            </span>
          </div>
        ))}
      </div>
    </div>
  );
}

function PanelChart({ panel }: { panel: Panel }) {
  const chartLeft = panel.plot.left - AXIS_W;
  const chartTop = panel.plot.top - MARGIN_TOP;
  const width = panel.plot.right - chartLeft + MARGIN_RIGHT;
  const height = panel.plot.bottom - chartTop + XAXIS_H;
  const boxH = panel.clipBottom ? panel.clipBottom - chartTop : height;

  const data = PORE_SIZE.map((x, i) => {
    const row: Record<string, number> = { x };
    panel.series.forEach((s, k) => {
      row[`s${k}`] = s.values[i];
    });
    return row;
  });

  const yTitle = (props: any) => {
    const vb = props.viewBox;
    const bx = vb.x + vb.width - panel.yTitleGap;
    const cy = vb.y + vb.height / 2 + 25;
    return (
      <text
        x={bx}
        y={cy}
        transform={`rotate(-90 ${bx} ${cy})`}
        textAnchor="middle"
        fontSize={46}
        fontWeight="bold"
        letterSpacing={4}
        fill={TEXT}
        fontFamily={FONT}
      >
        Water saturation component（%）
      </text>
    );
  };

  const xTitle = (props: any) => {
    const vb = props.viewBox;
    return (
      <text
        x={vb.x + vb.width / 2}
        y={vb.y + 127}
        textAnchor="middle"
        fontSize={48}
        fontWeight="bold"
        fill={TEXT}
        fontFamily={FONT}
      >
        Pore Size(μm）
      </text>
    );
  };

  const tickStyle = { fontSize: 46, fontWeight: "bold", fill: TEXT, fontFamily: FONT };

  return (
    <div style={{ position: "absolute", left: chartLeft, top: chartTop, width, height: boxH, overflow: "hidden" }}>
      <LineChart width={width} height={height} data={data} margin={{ top: MARGIN_TOP, right: MARGIN_RIGHT, bottom: 0, left: 0 }}>
        <XAxis
          dataKey="x"
          type="number"
          scale="log"
          domain={[0.001, 100]}
          ticks={X_TICKS}
          interval={0}
          tickFormatter={(v: number) => {
            const k = X_TICKS.findIndex((t) => Math.abs(t - v) < t * 1e-6);
            return k >= 0 ? X_TICK_LABELS[k] : String(v);
          }}
          height={XAXIS_H}
          axisLine={{ stroke: "#000", strokeWidth: 6 }}
          tickLine={{ stroke: "#000", strokeWidth: 5 }}
          tickSize={19}
          tickMargin={25}
          tick={tickStyle}
          label={xTitle}
        />
        <YAxis
          type="number"
          domain={[0, 1.8]}
          ticks={Y_TICKS}
          interval={0}
          tickFormatter={(v: number) => {
            const k = Y_TICKS.findIndex((t) => Math.abs(t - v) < 1e-6);
            return k >= 0 ? Y_TICK_LABELS[k] : String(v);
          }}
          width={AXIS_W}
          axisLine={{ stroke: "#000", strokeWidth: 6 }}
          tickLine={{ stroke: "#000", strokeWidth: 5 }}
          tickSize={18}
          tickMargin={16}
          tick={tickStyle}
          label={yTitle}
        />
        <Legend
          layout="vertical"
          align="center"
          verticalAlign="middle"
          wrapperStyle={{
            left: panel.legend.left - chartLeft,
            top: panel.legend.top - chartTop,
            width: panel.legend.width,
            height: panel.legend.height,
          }}
          content={(props: any) => <LegendBox panel={panel} payload={props.payload} />}
        />
        {panel.series.map((s, k) => (
          <Line
            key={s.name}
            dataKey={`s${k}`}
            name={s.name}
            type="linear"
            stroke={s.line ?? "none"}
            strokeWidth={2}
            dot={{ r: 9, fill: s.fill, stroke: s.stroke, strokeWidth: 2.5 }}
            activeDot={false}
            legendType="circle"
            isAnimationActive={false}
          />
        ))}
      </LineChart>
    </div>
  );
}

export default function App() {
  return (
    <div
      style={{
        position: "absolute",
        left: 0,
        top: 0,
        width: 4006,
        height: 3751,
        background: "#fff",
        fontFamily: FONT,
        overflow: "hidden",
      }}
    >
      {PANELS.map((p) => (
        <PanelChart key={p.title} panel={p} />
      ))}
    </div>
  );
}
